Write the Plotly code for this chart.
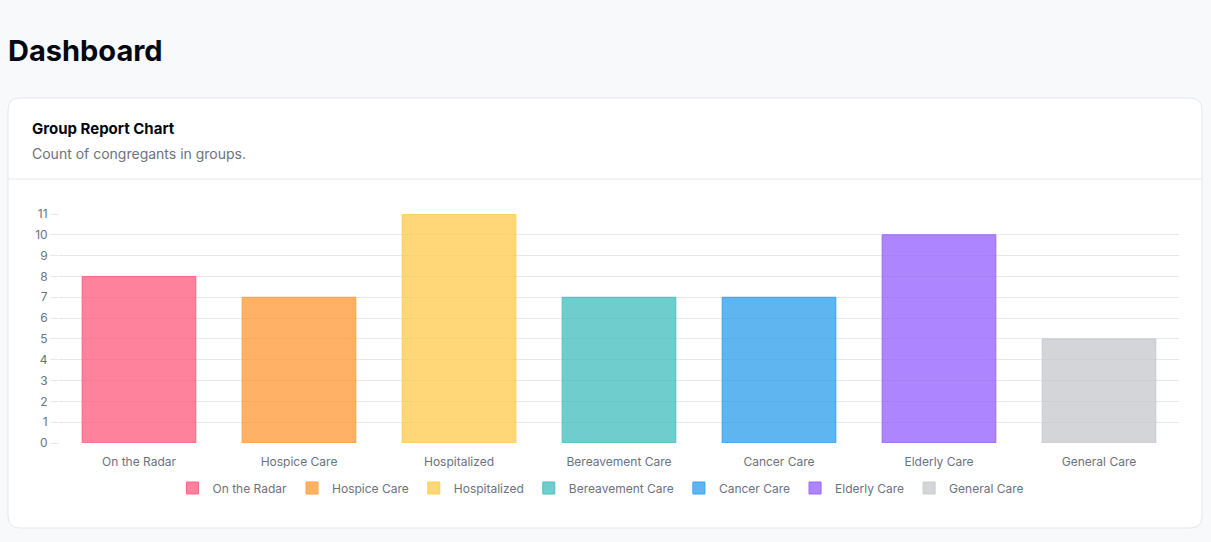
import plotly.graph_objects as go

categories = ["On the Radar", "Hospice Care", "Hospitalized", "Bereavement Care",
              "Cancer Care", "Elderly Care", "General Care"]
counts = [8, 7, 11, 7, 7, 10, 5]
colors_rgb = ["255,99,132", "255,159,64", "255,205,86", "75,192,192",
              "54,162,235", "153,102,255", "201,203,207"]
y_ticks = list(range(0, 12))

W, H = 1211, 542
L, R, T, B = 59, 1179, 214, 443


def px(x):
    return (x - L) / (R - L)


def py(y):
    return (B - y) / (B - T)


FONT = "Inter, Roboto, sans-serif"

fig = go.Figure()
for cat, val, c in zip(categories, counts, colors_rgb):
    fig.add_trace(go.Bar(
        x=[cat], y=[val], name=cat,
        marker=dict(color=f"rgba({c},0.8)", line=dict(color=f"rgb({c})", width=1)),
    ))

# card
x0, x1, y0, y1, r = 8, 1202, 98, 528, 12
path = (f"M {px(x0 + r)} {py(y0)} L {px(x1 - r)} {py(y0)} "
        f"Q {px(x1)} {py(y0)} {px(x1)} {py(y0 + r)} "
        f"L {px(x1)} {py(y1 - r)} Q {px(x1)} {py(y1)} {px(x1 - r)} {py(y1)} "
        f"L {px(x0 + r)} {py(y1)} Q {px(x0)} {py(y1)} {px(x0)} {py(y1 - r)} "
        f"L {px(x0)} {py(y0 + r)} Q {px(x0)} {py(y0)} {px(x0 + r)} {py(y0)} Z")
shapes = [
    dict(type="path", xref="paper", yref="paper", path=path, fillcolor="white",
         line=dict(color="#e5e7eb", width=1), layer="below"),
    dict(type="line", xref="paper", yref="paper", x0=px(x0), x1=px(x1), y0=py(179), y1=py(179),
         line=dict(color="#e5e7eb", width=1), layer="below"),
]

annotations = [
    dict(text="<b>Dashboard</b>", x=px(8), y=py(50), xref="paper", yref="paper",
         xanchor="left", yanchor="middle", showarrow=False, xshift=-2,
         font=dict(family=FONT, size=29, color="#030712")),
    dict(text="<b>Group Report Chart</b>", x=px(32), y=py(128), xref="paper", yref="paper",
         xanchor="left", yanchor="middle", showarrow=False, xshift=-2,
         font=dict(family=FONT, size=15, color="#030712")),
    dict(text="Count of congregants in groups.", x=px(32), y=py(153), xref="paper", yref="paper",
         xanchor="left", yanchor="middle", showarrow=False, xshift=-2,
         font=dict(family=FONT, size=14, color="#6b7280")),
]

fig.update_layout(
    width=W, height=H,
    margin=dict(l=L, r=W - R, t=T, b=H - B, pad=0),
    paper_bgcolor="#f8f9fb", plot_bgcolor="rgba(0,0,0,0)",
    barmode="relative", bargap=0.29,
    shapes=shapes, annotations=annotations,
    font=dict(family=FONT, size=12, color="#6b7280"),
    showlegend=True,
    legend=dict(orientation="h", x=px(601), xanchor="center", y=py(488), yanchor="middle",
                font=dict(family=FONT, size=12, color="#6b7280"),
                itemwidth=30, tracegroupgap=0, bgcolor="rgba(0,0,0,0)"),
    xaxis=dict(showgrid=False, showline=False, zeroline=False, ticks="outside",
               ticklen=8, tickcolor="rgba(0,0,0,0)",
               tickfont=dict(family=FONT, size=12, color="#6b7280")),
    yaxis=dict(range=[0, 11], tickvals=y_ticks, showgrid=True, gridcolor="#e5e7eb",
               zeroline=False, showline=False, ticks="outside", ticklen=8,
               tickcolor="#e5e7eb", tickfont=dict(family=FONT, size=12, color="#6b7280")),
)

fig.write_html("out.html", config={"displayModeBar": False},
               post_script="document.body.style.margin='0';document.body.style.background='#f8f9fb';")
